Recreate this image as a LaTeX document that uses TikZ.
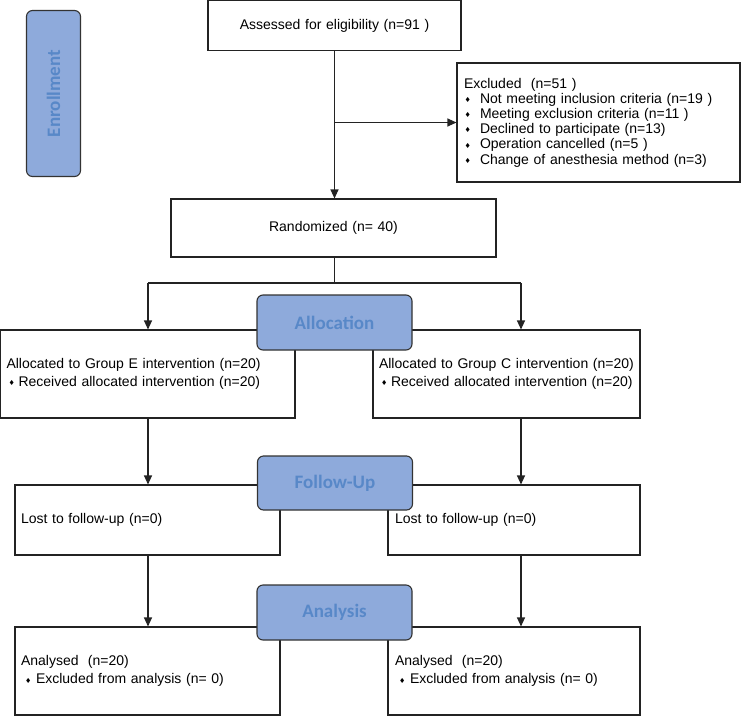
\documentclass[tikz,border=0pt]{standalone}
\usepackage{fontspec}
\setmainfont{Liberation Sans}
\newfontfamily\lblfont{Carlito}
\newfontfamily\dejavu{DejaVu Sans}
\usetikzlibrary{arrows.meta}
\definecolor{lblfill}{RGB}{142,170,219}
\definecolor{lbltext}{RGB}{88,136,200}
\definecolor{linec}{RGB}{35,35,35}
\newcommand\bul{\raisebox{0.8pt}{\fontsize{7}{7}\selectfont\dejavu ♦}}
\newcommand\bitem[3]{\makebox[#2][l]{\hspace{#1}\bul}#3}
\tikzset{
  box/.style={draw=linec, line width=1.1pt, fill=white, inner xsep=6pt, inner ysep=0pt,
    font=\fontsize{14}{17}\selectfont},
  lbl/.style={draw=black!80, line width=1.1pt, fill=lblfill, rounded corners=6pt,
    font=\lblfont\bfseries\fontsize{19}{21}\selectfont, text=lbltext},
  arr/.style={-{Triangle[length=9pt,width=8pt]}, draw=linec, line width=1.1pt},
  conn/.style={draw=linec, line width=1.1pt}
}
\begin{document}
\begin{tikzpicture}[x=1pt,y=-1pt]
\useasboundingbox (0,0) rectangle (753,716);
% boxes
\node[box, text width=241pt, minimum height=50pt, align=center] (assess) at (334.5,25.5) {Assessed for eligibility (n=91 )};
\node[box, inner xsep=7pt, text width=269pt, minimum height=119pt, align=left,
  font=\fontsize{14}{15.2}\selectfont] (excl) at (598.5,122.5)
  {Excluded\ \ (n=51 )\\
   \bitem{0.5pt}{16pt}{Not meeting inclusion criteria (n=19 )}\\
   \bitem{0.5pt}{16pt}{Meeting exclusion criteria (n=11 )}\\
   \bitem{0.5pt}{16pt}{Declined to participate (n=13)}\\
   \bitem{0.5pt}{16pt}{Operation cancelled (n=5 )}\\
   \bitem{0.5pt}{16pt}{Change of anesthesia method (n=3)}};
\node[box, text width=313pt, minimum height=58pt, align=center] (rand) at (333.5,228) {Randomized (n= 40)};
\node[box, text width=282.5pt, minimum height=88pt, align=left,
  font=\fontsize{14}{17.7}\selectfont] (grpE) at (147.75,374)
  {Allocated to Group E intervention (n=20)\\
   \bitem{2pt}{12pt}{Received allocated intervention (n=20)}};
\node[box, text width=255pt, minimum height=88pt, align=left,
  font=\fontsize{14}{17.7}\selectfont] (grpC) at (506.5,374)
  {Allocated to Group C intervention (n=20)\\
   \bitem{2pt}{12pt}{Received allocated intervention (n=20)}};
\node[box, text width=253pt, minimum height=70pt, align=left] (lostE) at (147.5,520) {Lost to follow-up (n=0)};
\node[box, inner xsep=7pt, text width=238pt, minimum height=70pt, align=left] (lostC) at (514,520) {Lost to follow-up (n=0)};
\node[box, text width=253pt, minimum height=88pt, align=left,
  font=\fontsize{14}{18.5}\selectfont] (analE) at (147.5,671)
  {Analysed\ \ (n=20)\\
   \bitem{4pt}{15pt}{Excluded from analysis (n= 0)}};
\node[box, inner xsep=7pt, text width=238pt, minimum height=88pt, align=left,
  font=\fontsize{14}{18.5}\selectfont] (analC) at (514,671)
  {Analysed\ \ (n=20)\\
   \bitem{4pt}{15pt}{Excluded from analysis (n= 0)}};
% connectors
\coordinate (sp) at (334.5,283);
\coordinate (sl) at (148,283);
\coordinate (sr) at (521,283);
\draw[arr] (assess.south) -- (assess.south |- rand.north);
\draw[arr] (assess.south |- excl.west) -- (excl.west);
\draw[conn] (assess.south |- rand.south) -- (sp);
\draw[conn] (sl) -- (sr);
\draw[arr] (sl) -- (sl |- grpE.north);
\draw[arr] (sr) -- (sr |- grpC.north);
\draw[arr] (sl |- grpE.south) -- (sl |- lostE.north);
\draw[arr] (sr |- grpC.south) -- (sr |- lostC.north);
\draw[arr] (sl |- lostE.south) -- (sl |- analE.north);
\draw[arr] (sr |- lostC.south) -- (sr |- analC.north);
% stage labels
\node[lbl, rotate=90, minimum width=166pt, minimum height=54pt] (enroll) at (53.5,93.5) {Enrollment};
\node[lbl, minimum width=155pt, minimum height=55pt] (alloc) at (334.5,322.5) {Allocation};
\node[lbl, minimum width=155pt, minimum height=54pt] (follow) at (335,483) {Follow-Up};
\node[lbl, minimum width=155pt, minimum height=55pt] (anal) at (334.5,612.5) {Analysis};
\end{tikzpicture}
\end{document}
